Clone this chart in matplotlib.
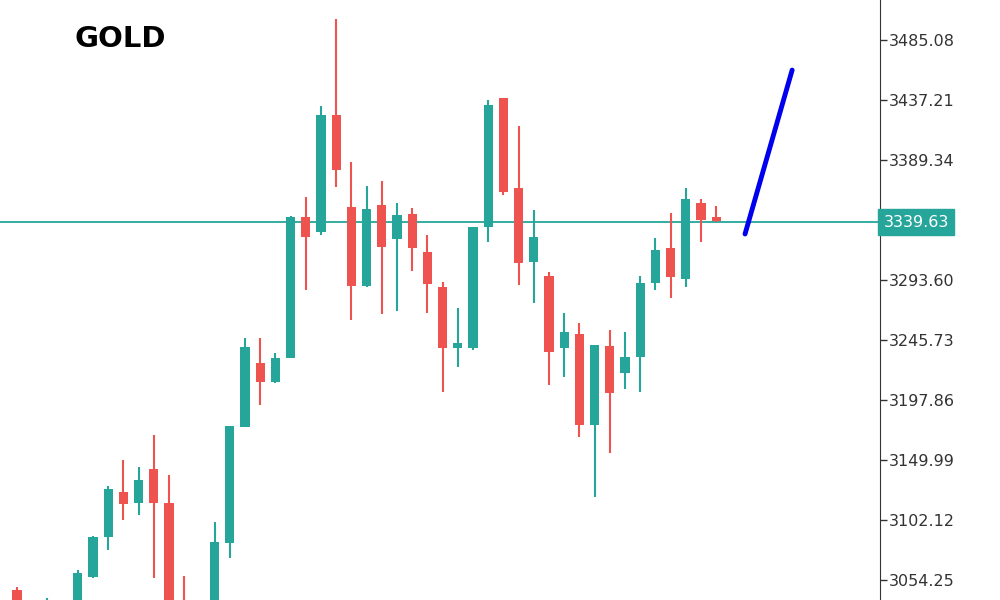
import numpy as np
import matplotlib.pyplot as plt

# OHLC
opens = [3046.3, 3020, 3030, 3030, 3034, 3056.7, 3088.6, 3124.5, 3115.7, 3142.8,
         3115.7, 3034.3, 3022, 3030, 3083.8, 3176.3, 3227.4, 3212.2, 3231.4, 3343.9,
         3331.9, 3425.2, 3351.9, 3288.8, 3353.4, 3326.3, 3346.3, 3315.9, 3288.0, 3239.4,
         3239.4, 3335.9, 3438.8, 3367.0, 3308.0, 3296.8, 3239.4, 3250.5, 3177.9, 3241.0,
         3219.4, 3232.2, 3291.2, 3319.2, 3294.4, 3355.0, 3343.9]
highs = [3048.7, 3035, 3039.9, 3036, 3062.3, 3089.4, 3129.2, 3150.0, 3144.4, 3169.9,
         3138.0, 3057.5, 3030, 3100.5, 3177.1, 3247.3, 3247.3, 3235.4, 3345.0, 3359.8,
         3432.4, 3501.8, 3387.7, 3368.6, 3372.6, 3355.0, 3351.0, 3329.5, 3292.0, 3271.3,
         3335.9, 3437.2, 3438.8, 3416.5, 3349.5, 3300.0, 3267.3, 3259.3, 3241.7, 3253.7,
         3252.1, 3296.8, 3327.1, 3347.1, 3367.0, 3358.2, 3352.6]
lows = [3030.3, 3015, 3025, 3022, 3028, 3055.9, 3078.2, 3102.1, 3106.1, 3055.9,
        3030, 3010, 3000, 3025, 3071.8, 3176.3, 3193.9, 3211.4, 3231.4, 3285.6,
        3329.5, 3367.8, 3261.7, 3288.0, 3266.5, 3268.9, 3300.8, 3267.3, 3204.2, 3224.2,
        3237.8, 3323.9, 3361.4, 3289.6, 3275.3, 3209.8, 3216.2, 3168.4, 3120.5, 3155.6,
        3206.6, 3204.2, 3285.6, 3279.2, 3288.0, 3323.9, 3339.9]
closes = [3034.3, 3030, 3038, 3033, 3059.9, 3088.6, 3126.9, 3114.9, 3134.0, 3115.7,
          3034.3, 3022.3, 3010, 3084.6, 3177.1, 3240.2, 3212.2, 3231.4, 3343.9, 3327.9,
          3425.2, 3381.3, 3288.8, 3350.3, 3320.0, 3345.5, 3319.2, 3290.4, 3239.4, 3243.5,
          3335.9, 3433.2, 3363.8, 3307.2, 3327.9, 3236.2, 3252.1, 3177.9, 3241.7, 3203.5,
          3232.2, 3291.2, 3317.5, 3296.0, 3358.2, 3341.5, 3340.7]

tick_vals = [3485.08, 3437.21, 3389.34, 3293.60, 3245.73, 3197.86, 3149.99, 3102.12, 3054.25]
current = 3339.63
arrow_x = [47.9, 51.0]
arrow_y = [3330.3, 3461.1]

up_c = '#26a69a'
dn_c = '#ef5350'

fig = plt.figure(figsize=(10, 6), dpi=100)
ax = fig.add_axes([0, 0, 0.88, 1])

for i in range(len(opens)):
    o, h, l, c = opens[i], highs[i], lows[i], closes[i]
    col = up_c if c >= o else dn_c
    ax.plot([i, i], [l, h], color=col, lw=1.5, zorder=2, solid_capstyle='butt')
    ax.bar(i, max(abs(c - o), 0.8), bottom=min(o, c), width=0.6, color=col, zorder=3)

ax.axhline(current, color=up_c, lw=1.3, zorder=1)
ax.plot(arrow_x, arrow_y, color='#0000ee', lw=3.5, zorder=4, solid_capstyle='round')

ax.set_xlim(-1.12, 56.78)
ax.set_ylim(3038.3, 3517.0)

ax.yaxis.tick_right()
ax.set_yticks(tick_vals)
ax.set_yticklabels([f'{v:.2f}' for v in tick_vals])
ax.tick_params(axis='y', direction='out', length=5, width=1, color='#333333',
               labelsize=11.5, labelcolor='#333333', pad=1)
ax.set_xticks([])
for s in ['top', 'left', 'bottom']:
    ax.spines[s].set_visible(False)
ax.spines['right'].set_color('#333333')

ax.text(1.004, current, f'{current:.2f}', transform=ax.get_yaxis_transform(),
        ha='left', va='center', fontsize=11.5, color='white', clip_on=False,
        bbox=dict(boxstyle='square,pad=0.35', fc=up_c, ec=up_c))

fig.text(0.075, 0.935, 'GOLD', fontsize=21, fontweight='bold', family='DejaVu Sans',
         va='center', ha='left')

fig.savefig('out.png')
